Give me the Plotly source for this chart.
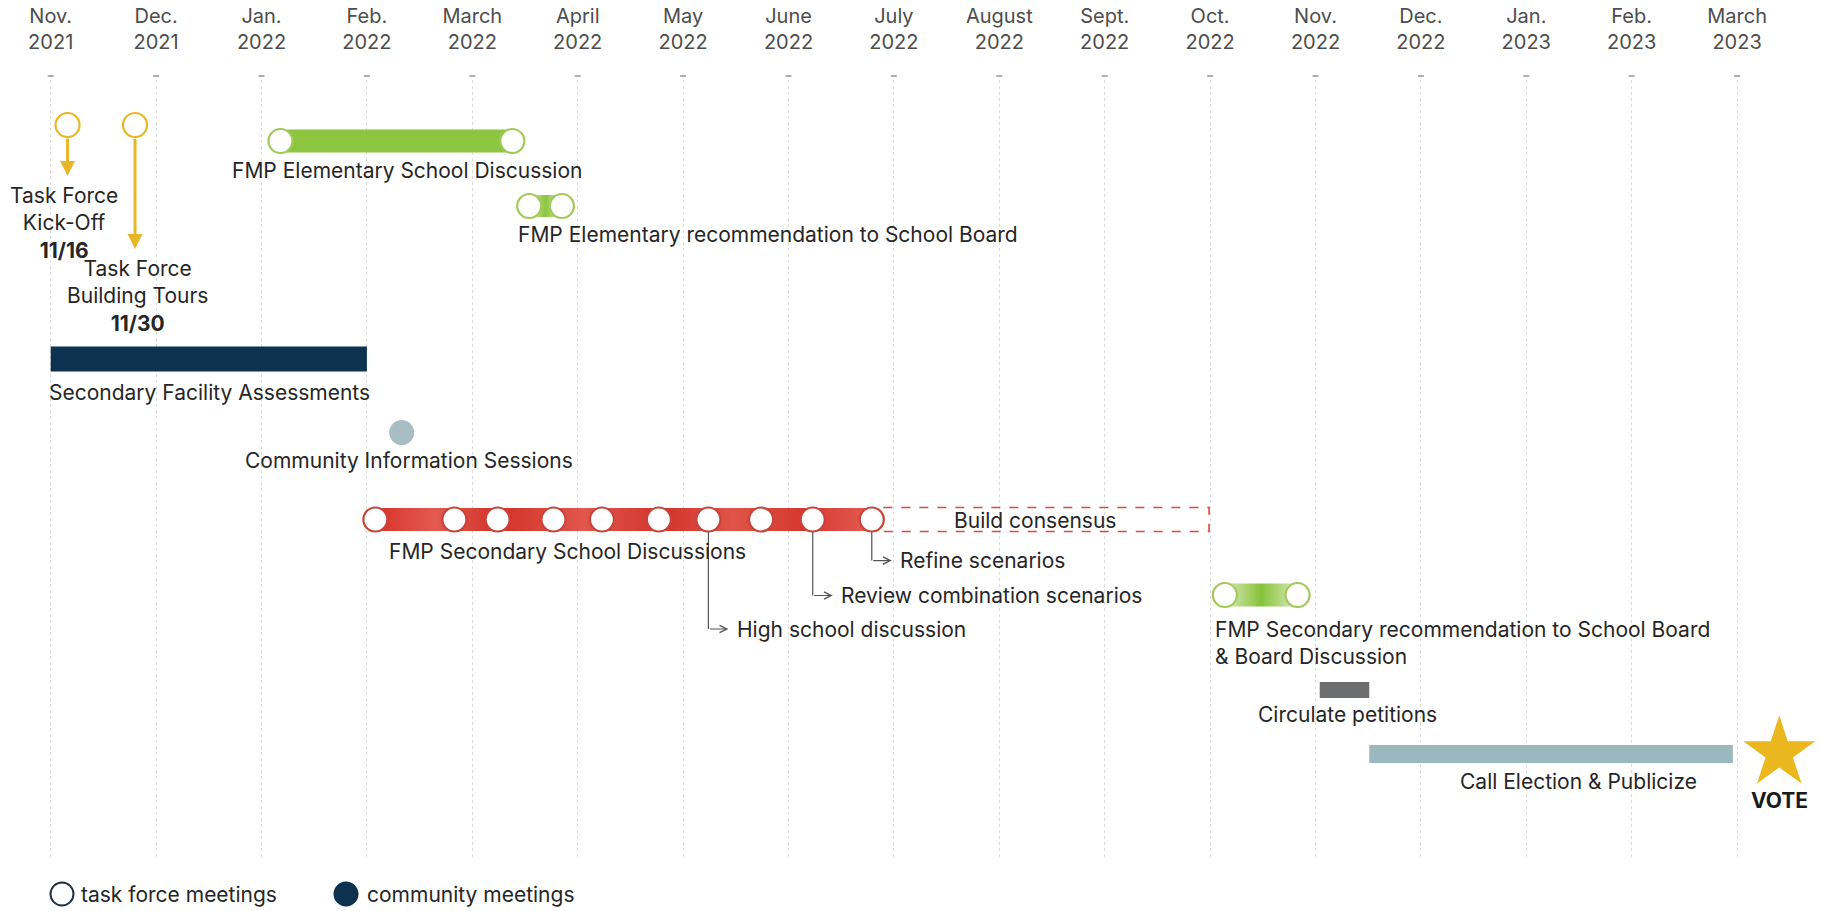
import plotly.graph_objects as go

# ---------------- data ----------------
month_labels = ["Nov.<br>2021", "Dec.<br>2021", "Jan.<br>2022", "Feb.<br>2022", "March<br>2022",
                "April<br>2022", "May<br>2022", "June<br>2022", "July<br>2022", "August<br>2022",
                "Sept.<br>2022", "Oct.<br>2022", "Nov.<br>2022", "Dec.<br>2022", "Jan.<br>2023",
                "Feb.<br>2023", "March<br>2023"]
month_pos = list(range(len(month_labels)))

# timing, in months after Nov. 2021
kickoff_at = 0.16
tours_at = 0.80
elem_discussion = [2.18, 4.38]
elem_recommendation = [4.54, 4.85]
facility_assessment = [0.0, 3.0]
community_sessions = [3.33]
secondary_meetings = [3.08, 3.83, 4.24, 4.77, 5.23, 5.77, 6.24, 6.74, 7.23, 7.79]
callout_meetings = [6.24, 7.23, 7.79]
callout_labels = ["High school discussion", "Review combination scenarios", "Refine scenarios"]
consensus = [7.90, 10.99]
secondary_recommendation = [11.14, 11.83]
petitions = [12.04, 12.51]
election = [12.51, 15.96]
vote_at = 16.40
legend_labels = ["task force meetings", "community meetings"]

# ---------------- layout constants (pixel rows) ----------------
W, H = 1822, 911
TOP, BOTTOM = 80, 860
X0_PX, MONTH_PX = 50.7, 105.4
FONT = "Inter"
FS = 21
TXT = "#262626"

GOLD = "#e8b629"
GREEN = "#8cc53f"
GREEN_LINE = "#a3c95a"
NAVY = "#0c3250"
RED_LINE = "#c8433b"
COMMUNITY = "#a8bec4"
PETITION = "#6d6e70"
ELECTION = "#9bb8bf"

Y_FIRST = 125
Y_ELEM = 141
Y_ELEM_REC = 206
Y_FAC = 359
Y_COMM = 432.6
Y_SEC = 519.5
Y_SEC_REC = 595
Y_PET = 690
Y_ELECT = 754
Y_LEGEND = 894
Y_DASH = 76
CALLOUT_Y = [629, 595.5, 560.6]

MS = 24  # meeting circle diameter


def px_to_x(px):
    return (px - X0_PX) / MONTH_PX


def py_to_paper(py):
    return (BOTTOM - py) / (BOTTOM - TOP)


fig = go.Figure()


def hbar(span, y, thick, color):
    fig.add_trace(go.Bar(orientation="h", y=[y], x=[span[1] - span[0]], base=[span[0]],
                         width=[thick], marker=dict(color=color, line=dict(width=0)),
                         showlegend=False, hoverinfo="skip"))


def grad_bar(span, y, thick, scale):
    s, e = span
    fig.add_trace(go.Scatter(x=[s, e, e, s, s],
                             y=[y - thick / 2, y - thick / 2, y + thick / 2, y + thick / 2, y - thick / 2],
                             mode="lines", line=dict(width=0), fill="toself",
                             fillgradient=dict(type="horizontal", colorscale=scale),
                             showlegend=False, hoverinfo="skip"))


def circles(xs, y, line_color, fill="white", size=MS, lw=2.2):
    fig.add_trace(go.Scatter(x=xs, y=[y] * len(xs), mode="markers",
                             marker=dict(symbol="circle", size=size, color=fill,
                                         line=dict(color=line_color, width=lw)),
                             showlegend=False, hoverinfo="skip", cliponaxis=False))


def label(x, y, text, xanchor="center", size=FS, color=TXT, align="center"):
    fig.add_annotation(x=x, y=y, text=text, showarrow=False, xanchor=xanchor, yanchor="middle",
                       align=align, font=dict(family=FONT, size=size, color=color))


# small dashes above the month grid lines
for m in month_pos:
    fig.add_shape(type="line", xref="x", yref="paper", xsizemode="pixel", xanchor=m,
                  x0=-3, x1=3, y0=py_to_paper(Y_DASH), y1=py_to_paper(Y_DASH),
                  line=dict(color="#b0b0b0", width=2))

# ---- task force kick-off and tours (gold) ----
for xv, tip in [(kickoff_at, 176), (tours_at, 249)]:
    fig.add_annotation(x=xv, y=tip, ax=xv, ay=Y_FIRST + MS / 2, axref="x", ayref="y",
                       xref="x", yref="y", text="", showarrow=True, arrowhead=2,
                       arrowsize=1.0, arrowwidth=3, arrowcolor=GOLD, standoff=0, startstandoff=0)
circles([kickoff_at, tours_at], Y_FIRST, GOLD)
label(px_to_x(64), 223, "Task Force<br>Kick-Off<br><b>11/16</b>")
label(px_to_x(137), 296, "Task Force<br>Building Tours<br><b>11/30</b>")

# ---- elementary discussion ----
hbar(elem_discussion, Y_ELEM, 23, GREEN)
circles(elem_discussion, Y_ELEM, GREEN_LINE)
label(px_to_x(407), 170, "FMP Elementary School Discussion")

grad_bar(elem_recommendation, Y_ELEM_REC, 22,
         [[0, "#d9eabb"], [0.5, "#8dc540"], [1, "#d9eabb"]])
circles(elem_recommendation, Y_ELEM_REC, GREEN_LINE)
label(px_to_x(516), 234, "FMP Elementary recommendation to School Board", xanchor="left")

# ---- facility assessments ----
hbar(facility_assessment, Y_FAC, 25, NAVY)
label(px_to_x(209), 392, "Secondary Facility Assessments")

# ---- community sessions ----
circles(community_sessions, Y_COMM, COMMUNITY, fill=COMMUNITY, lw=0, size=25)
label(px_to_x(409), 460.5, "Community Information Sessions")

# ---- secondary discussions ----
fig.add_trace(go.Scatter(x=[consensus[0], consensus[1], consensus[1], consensus[0], consensus[0]],
                         y=[507.5, 507.5, 531.5, 531.5, 507.5], mode="lines",
                         line=dict(color="#e0473e", width=1.6, dash="dash"),
                         showlegend=False, hoverinfo="skip"))
label(px_to_x(1035), 520, "Build consensus")

grad_bar([secondary_meetings[0], secondary_meetings[-1]], Y_SEC, 23,
         [[0, "#d8332b"], [0.12, "#e25a50"], [0.25, "#d33229"], [0.42, "#e0574c"],
          [0.58, "#d2342b"], [0.72, "#df5448"], [0.86, "#d6382f"], [1, "#e35b50"]])

for xv, ty, txt in zip(callout_meetings, CALLOUT_Y, callout_labels):
    fig.add_trace(go.Scatter(x=[xv, xv], y=[Y_SEC + MS / 2, ty], mode="lines",
                             line=dict(color="#555555", width=1.2),
                             showlegend=False, hoverinfo="skip"))
    fig.add_annotation(x=xv + 0.19, y=ty, ax=xv, ay=ty, axref="x", ayref="y", xref="x", yref="y",
                       text="", showarrow=True, arrowhead=5, arrowsize=1.3, arrowwidth=1.1,
                       arrowcolor="#555555", standoff=0, startstandoff=0)
    label(xv + 0.25, ty, txt, xanchor="left")

circles(secondary_meetings, Y_SEC, RED_LINE)
label(px_to_x(567), 551, "FMP Secondary School Discussions")

# ---- secondary recommendation ----
grad_bar(secondary_recommendation, Y_SEC_REC, 23,
         [[0, "#dcebbf"], [0.5, "#86c238"], [1, "#dcebbf"]])
circles(secondary_recommendation, Y_SEC_REC, GREEN_LINE)
fig.add_annotation(x=px_to_x(1213), y=642.5,
                   text="FMP Secondary recommendation to School Board<br>& Board Discussion",
                   showarrow=False, xanchor="left", yanchor="middle", align="left",
                   font=dict(family=FONT, size=FS, color=TXT))

# ---- petitions & election ----
hbar(petitions, Y_PET, 16, PETITION)
label(px_to_x(1347), 714, "Circulate petitions")
hbar(election, Y_ELECT, 18, ELECTION)
label(px_to_x(1578), 781.5, "Call Election &amp; Publicize")

fig.add_trace(go.Scatter(x=[vote_at], y=[753], mode="markers",
                         marker=dict(symbol="star", size=54, color="#ebb71f", line=dict(width=0)),
                         showlegend=False, hoverinfo="skip", cliponaxis=False))
label(vote_at, 800, "<b>VOTE</b>", size=21, color="#1a1a1a")

# ---- key (below the grid) ----
ly = py_to_paper(Y_LEGEND)
key_sym_x = [px_to_x(62), px_to_x(346)]
key_txt_x = [px_to_x(79), px_to_x(365)]
key_fill = ["white", NAVY]
key_line = ["#1e3446", NAVY]
for sx, tx, fc, lc, txt in zip(key_sym_x, key_txt_x, key_fill, key_line, legend_labels):
    fig.add_shape(type="circle", xref="x", yref="paper", xsizemode="pixel", ysizemode="pixel",
                  xanchor=sx, yanchor=ly, x0=-11.5, x1=11.5, y0=-11.5, y1=11.5,
                  fillcolor=fc, line=dict(color=lc, width=2))
    fig.add_annotation(x=tx, y=ly, xref="x", yref="paper", text=txt, showarrow=False,
                       xanchor="left", yanchor="middle",
                       font=dict(family=FONT, size=FS, color=TXT))

fig.update_layout(
    width=W, height=H,
    margin=dict(l=0, r=0, t=TOP, b=H - BOTTOM, pad=0),
    paper_bgcolor="white", plot_bgcolor="white",
    barmode="overlay", showlegend=False,
    font=dict(family=FONT, color=TXT),
    xaxis=dict(range=[px_to_x(0), px_to_x(W)], side="top", tickmode="array",
               tickvals=month_pos, ticktext=month_labels, ticks="", ticklabelstandoff=26,
               tickfont=dict(family=FONT, size=20, color="#4d4d4d"),
               showgrid=True, gridcolor="#dddddd", griddash="dot", gridwidth=1,
               zeroline=False, showline=False, fixedrange=True),
    yaxis=dict(range=[BOTTOM, TOP], visible=False, showgrid=False, zeroline=False, fixedrange=True),
)

fig.write_html("out.html", config={"displayModeBar": False},
               post_script="document.body.style.margin='0';")
